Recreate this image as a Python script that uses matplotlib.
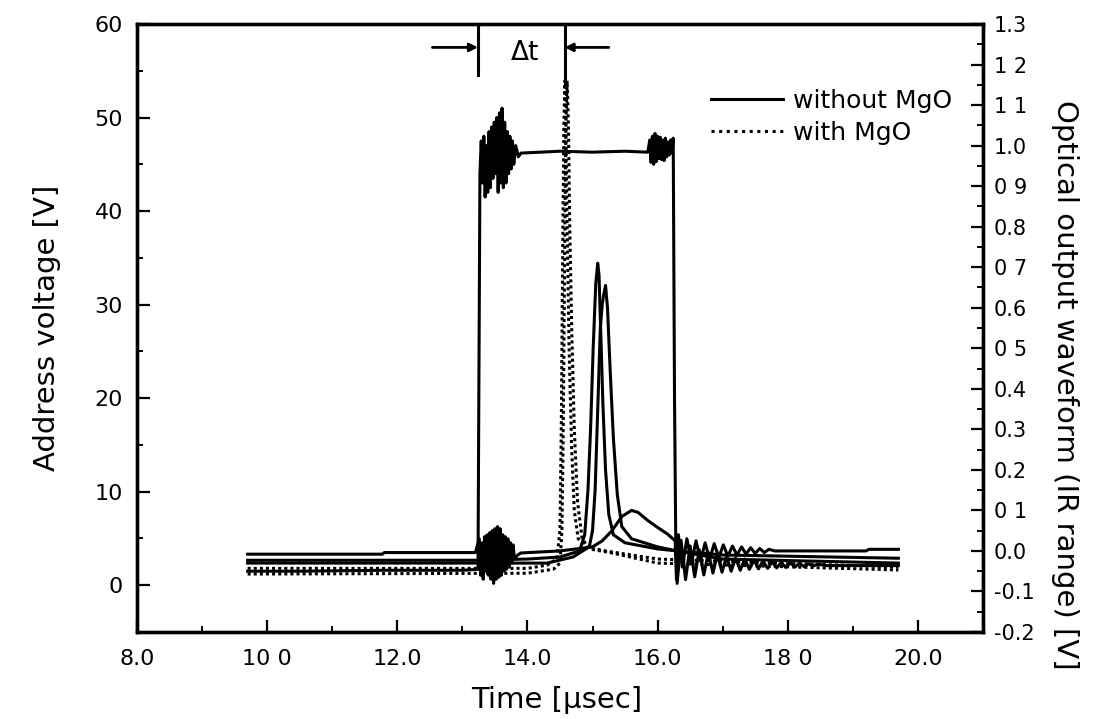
import matplotlib.pyplot as plt
from matplotlib.lines import Line2D
from matplotlib.ticker import FixedLocator

plt.rcParams['font.family'] = ['DejaVu Sans']

# address voltage pulse (left axis, V)
t_volt = [9.7, 10.5, 11.8, 13.0, 13.24, 13.27, 13.29, 13.31, 13.33, 13.35, 13.37, 13.39,
          13.41, 13.43, 13.45, 13.47, 13.49, 13.51, 13.53, 13.55, 13.57, 13.59, 13.61,
          13.63, 13.65, 13.67, 13.69, 13.71, 13.73, 13.75, 13.77, 13.79, 13.82, 13.86,
          13.90, 14.2, 14.5, 15.0, 15.5, 15.85, 15.88, 15.90, 15.92, 15.94, 15.96,
          15.98, 16.00, 16.02, 16.04, 16.06, 16.08, 16.10, 16.12, 16.14, 16.16, 16.18,
          16.20, 16.22, 16.24, 16.26, 16.28,
          16.30, 16.36, 16.43, 16.50, 16.57, 16.64, 16.71, 16.78, 16.85, 16.92, 16.99,
          17.06, 17.13, 17.20, 17.27, 17.34, 17.41, 17.48, 17.55, 17.62, 17.69, 17.76,
          17.83, 17.90, 17.97, 18.04, 18.11, 18.18, 18.25, 18.32, 18.39, 18.46, 18.6,
          19.0, 19.7]
v_volt = [1.5, 1.5, 1.6, 1.6, 1.7, 44.0, 47.5, 43.0, 48.0, 41.5, 47.0, 42.0,
          48.5, 42.5, 49.0, 43.5, 49.5, 44.0, 50.0, 42.0, 50.5, 43.0, 51.0,
          42.5, 49.5, 43.0, 48.5, 44.0, 48.0, 44.5, 47.5, 45.0, 47.0, 45.8,
          46.2, 46.3, 46.4, 46.3, 46.4, 46.3, 47.6, 45.2, 48.0, 45.0, 48.3,
          45.3, 48.0, 45.6, 47.9, 45.5, 47.6, 45.4, 47.8, 45.8, 47.4, 46.0,
          47.6, 46.2, 47.8, 20.0, 4.0,
          0.2, 4.8, 0.6, 4.2, 0.9, 3.8, 1.1, 3.5, 1.3, 3.3, 1.4,
          3.1, 1.5, 2.9, 1.6, 2.8, 1.7, 2.7, 1.75, 2.6, 1.8, 2.5,
          1.85, 2.45, 1.9, 2.4, 1.95, 2.35, 2.0, 2.3, 2.05, 2.25, 2.1,
          2.1, 2.1]

# optical output without MgO (right axis, V)
t_opt_a = [9.7, 13.2, 14.0, 14.5, 14.8, 14.88, 14.93, 14.97, 15.01, 15.05, 15.08, 15.10,
           15.13, 15.16, 15.20, 15.25, 15.32, 15.5, 16.0, 16.3, 17.0, 19.7]
r_opt_a = [-0.023, -0.023, -0.02, -0.015, 0.0, 0.04, 0.15, 0.30, 0.50, 0.66, 0.71, 0.68,
           0.52, 0.36, 0.20, 0.09, 0.04, 0.02, 0.005, 0.0, -0.01, -0.018]

t_opt_b = [9.7, 13.2, 14.3, 14.7, 14.95, 15.0, 15.04, 15.08, 15.12, 15.15, 15.17, 15.20,
           15.23, 15.27, 15.32, 15.38, 15.45, 15.6, 16.0, 16.3, 17.0, 19.7]
r_opt_b = [-0.03, -0.03, -0.03, -0.015, 0.01, 0.05, 0.15, 0.35, 0.55, 0.61, 0.63, 0.655,
           0.60, 0.45, 0.28, 0.14, 0.06, 0.03, 0.01, 0.0, -0.02, -0.03]

t_opt_c = [9.7, 11.77, 11.8, 13.2, 13.26, 13.28, 13.30, 13.32, 13.34, 13.36, 13.38, 13.40,
           13.42, 13.44, 13.46, 13.48, 13.50, 13.52, 13.54, 13.56, 13.58, 13.60, 13.62,
           13.64, 13.66, 13.68, 13.70, 13.72, 13.74, 13.76, 13.78, 13.80,
           13.85, 13.9, 14.5, 15.0, 15.15, 15.3, 15.45, 15.6, 15.7, 15.85, 16.0, 16.15,
           16.27, 16.29, 16.32, 16.38, 16.45, 16.52, 16.59, 16.66, 16.73, 16.80, 16.87,
           16.94, 17.01, 17.08, 17.15, 17.22, 17.29, 17.36, 17.43, 17.50, 17.57, 17.64,
           17.71, 17.8, 18.2, 19.2, 19.25, 19.7]
r_opt_c = [-0.008, -0.008, -0.004, -0.004, 0.03, -0.06, 0.02, -0.07, 0.035, -0.05, 0.04, -0.06,
           0.045, -0.07, 0.05, -0.08, 0.055, -0.07, 0.06, -0.065, 0.055, -0.06, 0.04,
           -0.05, 0.035, -0.045, 0.03, -0.04, 0.02, -0.03, 0.015, -0.02,
           -0.01, -0.005, 0.0, 0.01, 0.025, 0.05, 0.085, 0.1, 0.095, 0.075, 0.058, 0.042,
           0.025, -0.07, 0.04, -0.04, 0.03, -0.03, 0.025, -0.025, 0.02, -0.02, 0.018,
           -0.016, 0.015, -0.013, 0.012, -0.01, 0.01, -0.008, 0.008, -0.006, 0.006, -0.004,
           0.004, 0.0, 0.0, 0.0, 0.004, 0.004]

# optical output with MgO (right axis, V)
t_mgo_1 = [9.7, 14.0, 14.3, 14.45, 14.50, 14.52, 14.54, 14.56, 14.575, 14.59, 14.61, 14.64,
           14.68, 14.72, 14.78, 14.9, 15.2, 16.0, 19.7]
r_mgo_1 = [-0.043, -0.043, -0.035, -0.02, 0.05, 0.30, 0.70, 1.05, 1.16, 1.05, 0.80, 0.50,
           0.25, 0.10, 0.03, 0.01, 0.0, -0.02, -0.04]

t_mgo_2 = [9.7, 14.0, 14.4, 14.50, 14.53, 14.55, 14.57, 14.59, 14.61, 14.63, 14.65, 14.68,
           14.72, 14.77, 14.84, 14.95, 15.3, 16.0, 19.7]
r_mgo_2 = [-0.057, -0.055, -0.045, -0.03, 0.05, 0.30, 0.70, 1.05, 1.16, 1.05, 0.80, 0.55,
           0.30, 0.12, 0.03, 0.005, -0.005, -0.03, -0.047]

# delta t marker
dt_left = 13.24
dt_right = 14.57
dt_level = 57.5
dt_arrow_from = [12.54, 15.25]

x_major = [8, 10, 12, 14, 16, 18, 20]
x_labels = ['8.0', '10 0', '12.0', '14.0', '16.0', '18 0', '20.0']
x_minor = [9, 11, 13, 15, 17, 19, 21]
y_major = [0, 10, 20, 30, 40, 50, 60]
y_minor = [-5, 5, 15, 25, 35, 45, 55]
r_major = [-0.2, -0.1, 0.0, 0.1, 0.2, 0.3, 0.4, 0.5, 0.6, 0.7, 0.8, 0.9, 1.0, 1.1, 1.2, 1.3]
r_labels = ['-0.2', '-0.1', '0.0', '0 1', '0.2', '0.3', '0.4', '0 5', '0.6', '0 7',
            '0.8', '0 9', '1.0', '1 1', '1 2', '1.3']
r_minor = [-0.15, -0.05, 0.05, 0.15, 0.25, 0.35, 0.45, 0.55, 0.65, 0.75, 0.85, 0.95,
           1.05, 1.15, 1.25]

fig = plt.figure(figsize=(11.02, 7.19), dpi=100)
ax = fig.add_axes([0.1243, 0.121, 0.7677, 0.8456])
ax2 = ax.twinx()

lw = 2.2
ax.plot(t_volt, v_volt, color='black', lw=lw)
ax2.plot(t_opt_a, r_opt_a, color='black', lw=lw)
ax2.plot(t_opt_b, r_opt_b, color='black', lw=lw)
ax2.plot(t_opt_c, r_opt_c, color='black', lw=lw)
ax2.plot(t_mgo_1, r_mgo_1, color='black', lw=2.2, ls=(0, (1, 1)))
ax2.plot(t_mgo_2, r_mgo_2, color='black', lw=2.2, ls=(0, (1, 1)))

# delta t annotation
ax.plot([dt_left, dt_left], [54.6, 59.7], color='black', lw=2.2)
ax.plot([dt_right, dt_right], [53.5, 59.8], color='black', lw=2.2)
ax.annotate('', xy=(dt_left, dt_level), xytext=(dt_arrow_from[0], dt_level),
            arrowprops=dict(arrowstyle='-|>', color='black', lw=2.0, mutation_scale=12,
                            shrinkA=0, shrinkB=0))
ax.annotate('', xy=(dt_right, dt_level), xytext=(dt_arrow_from[1], dt_level),
            arrowprops=dict(arrowstyle='-|>', color='black', lw=2.0, mutation_scale=12,
                            shrinkA=0, shrinkB=0))
ax.text((dt_left + dt_right) / 2 + 0.05, dt_level - 0.6, '\u0394t', ha='center', va='center',
        fontsize=19)

ax.set_xlim(8, 21)
ax.set_ylim(-5, 60)
ax2.set_ylim(-0.2, 1.3)

ax.set_xticks(x_major)
ax.set_xticklabels(x_labels)
ax.xaxis.set_minor_locator(FixedLocator(x_minor))
ax.set_yticks(y_major)
ax.yaxis.set_minor_locator(FixedLocator(y_minor))
ax2.set_yticks(r_major)
ax2.set_yticklabels(r_labels)
ax2.yaxis.set_minor_locator(FixedLocator(r_minor))

ax.tick_params(axis='both', which='major', direction='in', length=9, width=1.6,
               labelsize=16, pad=10, top=False)
ax.tick_params(axis='both', which='minor', direction='in', length=4.5, width=1.4, top=False)
ax.tick_params(axis='x', which='major', pad=12)
ax2.tick_params(axis='y', which='major', direction='in', length=9, width=1.6,
                labelsize=15, pad=8)
ax2.tick_params(axis='y', which='minor', direction='in', length=4.5, width=1.4)

for a in (ax, ax2):
    for s in a.spines.values():
        s.set_linewidth(2.4)

ax.set_xlabel('Time [\u00b5sec]', fontsize=21, va='center')
ax.xaxis.set_label_coords(0.496, -0.112)
ax.set_ylabel('Address voltage [V]', fontsize=21, va='center')
ax.yaxis.set_label_coords(-0.106, 0.5)
ax2.set_ylabel('Optical output waveform (IR range) [V]', fontsize=21, rotation=270, va='center')
ax2.yaxis.set_label_coords(1.097, 0.406)

handles = [Line2D([], [], color='black', lw=2.2),
           Line2D([], [], color='black', lw=2.2, ls=(0, (1, 1.5)))]
ax2.legend(handles, ['without MgO', 'with MgO'], loc='upper left',
           bbox_to_anchor=(0.678, 0.893), frameon=False, fontsize=18,
           handlelength=2.9, handletextpad=0.4, labelspacing=0.3,
           borderpad=0, borderaxespad=0)

fig.savefig('out.png', dpi=100)
